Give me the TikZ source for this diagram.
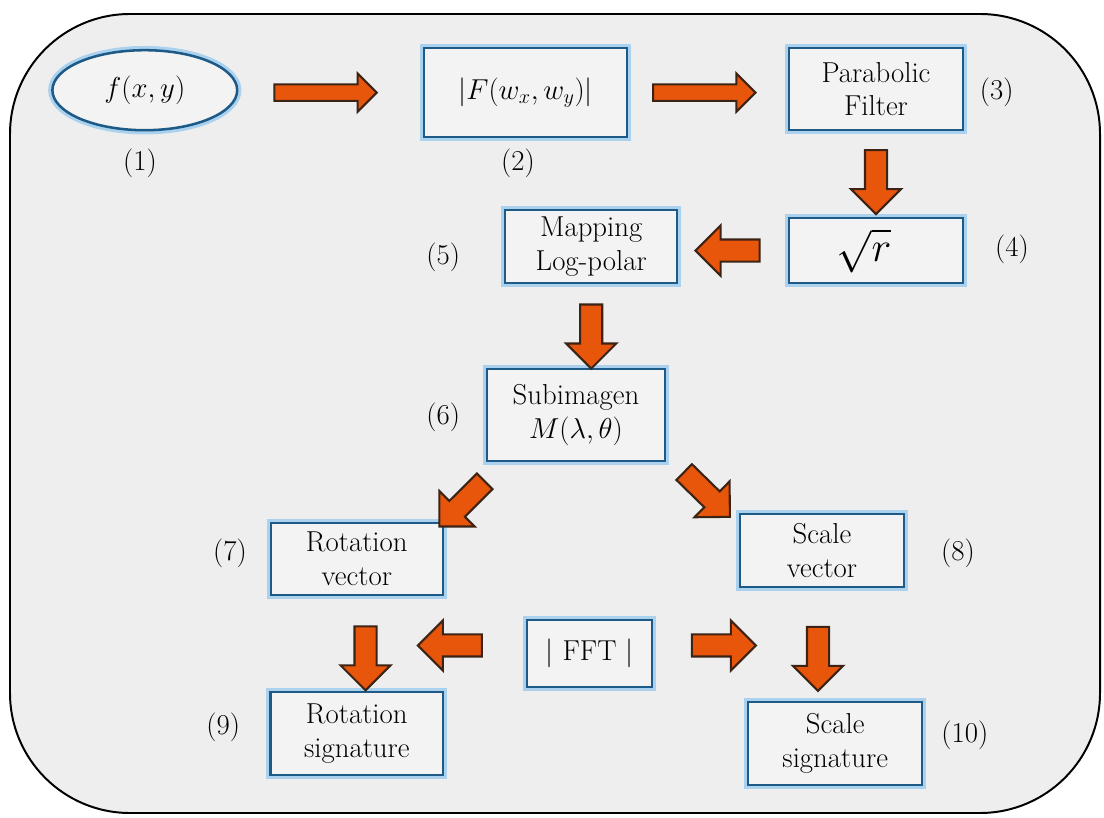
\RequirePackage{fix-cm}
\documentclass[tikz,border=0pt]{standalone}
\usetikzlibrary{shapes.geometric,shapes.arrows,calc}
\definecolor{boxblue}{RGB}{30,90,135}
\definecolor{boxglow}{RGB}{170,210,238}
\definecolor{boxfill}{RGB}{243,243,243}
\definecolor{panelfill}{RGB}{238,238,238}
\definecolor{arrowfill}{RGB}{232,86,12}
\definecolor{arrowline}{RGB}{60,35,20}
\begin{document}
\begin{tikzpicture}
[font=\fontsize{20.5}{24}\selectfont, line width=0.75pt,
stage/.style={rectangle, draw=boxblue, line width=1.8pt, fill=boxfill, inner sep=0pt, align=center, preaction={draw=boxglow, line width=6pt}},
source/.style={ellipse, draw=boxblue, line width=1.8pt, fill=boxfill, inner sep=0pt, preaction={draw=boxglow, line width=6pt}},
barrow/.style={single arrow, draw=arrowline, line width=1.5pt, fill=arrowfill, inner xsep=0pt, inner ysep=0.25cm, single arrow head extend=0.35cm, single arrow head indent=0pt, minimum height=1.6cm, sloped, allow upside down},
harrow/.style={barrow, inner ysep=0.18cm, single arrow head extend=0.27cm, minimum height=2.56cm}]

\useasboundingbox (0,0) rectangle (27.6,20.425);
\fill[white] (0,0) rectangle (27.6,20.425);
\draw[line width=1.4pt, fill=panelfill, rounded corners=3cm] (0.25,0.10) rectangle (27.50,20.075);

% stages
\node[source, minimum width=4.62cm, minimum height=2.00cm] (signal) at (3.62,18.17) {$f(x,y)$};
\node[stage, minimum width=5.08cm, minimum height=2.22cm] (spectrum) at (13.14,18.11) {$|F(w_x, w_y)|$};
\node[stage, minimum width=4.35cm, minimum height=2.05cm] (parabolic) at (21.90,18.20) {Parabolic\\Filter};
\node[stage, minimum width=4.35cm, minimum height=1.62cm] (sqroot) at (21.90,14.16) {\fontsize{30}{34}\selectfont$\sqrt{r}$\hspace{0.6cm}};
\node[stage, minimum width=4.30cm, minimum height=1.82cm] (logpolar) at (14.78,14.26) {Mapping\\Log-polar};
\node[stage, minimum width=4.45cm, minimum height=2.30cm] (subimage) at (14.40,10.05) {Subimagen\\$M(\lambda,\theta)$};
\node[stage, minimum width=4.30cm, minimum height=1.80cm] (rotvec) at (8.92,6.45) {Rotation\\vector};
\node[stage, minimum width=4.10cm, minimum height=1.82cm] (scalevec) at (20.55,6.66) {Scale\\vector};
\node[stage, minimum width=3.12cm, minimum height=1.68cm] (fft) at (14.74,4.09) {$|$ FFT $|$};
\node[stage, minimum width=4.32cm, minimum height=2.08cm] (rotsig) at (8.92,2.09) {Rotation\\signature};
\node[stage, minimum width=4.35cm, minimum height=2.08cm] (scalesig) at (20.88,1.84) {Scale\\signature};

% numbers
\node (num1) at (3.50,16.35) {(1)};
\node (num2) at (12.95,16.35) {(2)};
\node (num3) at (24.92,18.12) {(3)};
\node (num4) at (25.30,14.18) {(4)};
\node (num5) at (11.08,13.98) {(5)};
\node (num6) at (11.08,9.98) {(6)};
\node (num7) at (5.75,6.60) {(7)};
\node (num8) at (23.95,6.60) {(8)};
\node (num9) at (5.58,2.25) {(9)};
\node (num10) at (24.12,2.05) {(10)};

% block arrows
\path (spectrum.west -| signal.east) -- (spectrum.west) node[harrow, pos=0.45] (a12) {};
\path (spectrum.east) -- (spectrum.east -| parabolic.west) node[harrow, pos=0.45] (a23) {};
\path (parabolic.south) -- (sqroot.north) node[barrow, pos=0.53] (a34) {};
\path (sqroot.west) -- (sqroot.west -| logpolar.east) node[barrow, midway] (a45) {};
\path (logpolar.south) -- (logpolar.south |- subimage.north) node[barrow, pos=0.56] (a56) {};
\path ([shift={(0.25,-0.2)}]subimage.south west) -- ([shift={(-0.2,-0.2)}]rotvec.north east) node[barrow, midway] (a67) {};
\path ([shift={(0.35,-0.15)}]subimage.south east) -- ([shift={(-0.32,0)}]scalevec.north west) node[barrow, midway] (a68) {};
\path ([xshift=0.22cm]rotvec.south) -- ([xshift=0.22cm]rotsig.north) node[barrow, pos=0.6] (a79) {};
\path ([xshift=-0.1cm]scalevec.south) -- ([xshift=-0.1cm]scalevec.south |- scalesig.north) node[barrow, pos=0.58] (a810) {};

\coordinate (fftl) at ([yshift=0.2cm]fft.west);
\coordinate (fftr) at ([yshift=0.2cm]fft.east);
\path (fftl) -- (fftl -| a79) node[barrow, pos=0.44] (afft9) {};
\path (fftr) -- (fftr -| a810) node[barrow, pos=0.395] (afft10) {};
\end{tikzpicture}
\end{document}
